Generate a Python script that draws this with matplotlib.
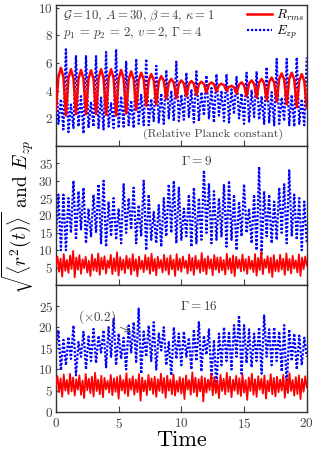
import numpy as np
import matplotlib
matplotlib.use("Agg")
import matplotlib.pyplot as plt

plt.rcParams["font.family"] = "serif"
plt.rcParams["font.serif"] = ["cmr10", "DejaVu Serif"]
plt.rcParams["mathtext.fontset"] = "cm"
plt.rcParams["axes.formatter.use_mathtext"] = True

# ---- data ----
# top panel (Gamma = 4), sampled every 0.2 time units
r_top = [2.6, 5.0, 5.65, 5.0, 2.2, 4.9, 5.55, 4.9, 2.3, 4.86, 5.5, 4.86,
         2.3, 4.85, 5.48, 4.85, 2.3, 4.9, 5.55, 4.9, 2.25, 4.9, 5.55, 4.9,
         2.2, 4.85, 5.5, 4.87, 2.35, 4.8, 5.4, 4.84, 2.6, 4.76, 5.3, 4.82,
         2.9, 4.74, 5.2, 4.76, 3.0, 4.64, 5.05, 4.72, 3.4, 4.56, 4.85, 4.57,
         3.45, 4.49, 4.75, 4.52, 3.6, 4.48, 4.7, 4.5, 3.7, 4.46, 4.65, 4.49,
         3.85, 4.45, 4.6, 4.47, 3.95, 4.39, 4.5, 4.4, 4.0, 4.28, 4.35, 4.24,
         3.8, 4.44, 4.6, 4.4, 3.6, 4.52, 4.75, 4.5, 3.5, 4.58, 4.85, 4.54,
         3.3, 4.62, 4.95, 4.6, 3.2, 4.84, 5.25, 4.8, 3.0, 4.84, 5.3, 4.8,
         2.8, 4.7, 5.2, 4.7, 2.75]
e_top = [5.5, 1.6, 3.4, 1.2, 7.0, 1.0, 3.0, 1.3, 6.5, 1.4, 3.6, 0.9,
         6.5, 1.3, 3.2, 1.4, 6.5, 1.3, 3.5, 1.2, 6.8, 1.4, 3.1, 1.3,
         7.0, 1.3, 3.6, 1.4, 6.1, 1.5, 3.3, 1.3, 6.3, 1.6, 3.7, 1.5,
         6.3, 1.5, 3.4, 1.8, 5.8, 1.7, 3.8, 1.6, 5.5, 2.0, 4.0, 1.8,
         6.1, 1.8, 3.7, 1.9, 5.3, 2.1, 4.1, 1.7, 5.4, 1.8, 3.9, 2.2,
         5.1, 2.0, 4.2, 1.7, 5.2, 2.2, 4.0, 1.8, 5.2, 1.7, 4.1, 2.3,
         5.0, 2.0, 3.8, 1.6, 5.3, 1.7, 4.0, 2.1, 5.4, 1.9, 3.6, 1.6,
         5.7, 1.7, 3.9, 1.5, 6.3, 1.6, 3.5, 1.8, 6.3, 1.5, 3.7, 1.4,
         6.4, 1.6, 3.4, 1.5, 6.4]

# middle panel (Gamma = 9)
e_mid_lo = [14, 10, 10, 15, 13, 16, 12, 14, 15, 12, 11, 14, 13, 12, 15, 16, 12,
            14, 10, 13, 12, 11, 14, 15, 12, 13, 14, 11, 12, 13, 15, 12, 13, 14,
            11, 13, 10, 14, 15, 12, 10, 9, 14, 12, 13, 15, 12, 14, 13, 10, 12]
e_mid_hi = [26, 26, 25, 30, 27, 28, 22, 26, 29, 30, 24, 25, 22, 29, 25, 28, 23,
            30, 26, 21, 23, 25, 29, 30, 28, 22, 26, 28, 25, 33, 29, 27, 25, 29,
            30, 26, 24, 29, 22, 26, 34, 27, 26, 24, 28, 29, 33, 26, 25, 24]
r_mid = [5.5, 8.2, 3.8, 7.6, 2.4, 8.9, 4.1, 7.2, 3.5, 8.5,
         4.6, 9.8, 2.2, 7.9, 4.4, 8.6, 3.2, 7.4, 4.8, 8.1,
         3.6, 7.0, 2.6, 8.8, 4.2, 7.5, 3.9, 9.1, 2.9, 7.8,
         4.5, 8.3, 3.3, 7.1, 4.9, 8.7, 3.1, 7.7, 4.0, 9.4,
         2.7, 8.0, 4.3, 7.3, 3.4, 8.4, 4.7, 7.6, 3.0, 8.9,
         4.1, 7.4, 2.5, 8.2, 4.6, 7.0, 3.7, 8.6, 4.4, 7.9,
         3.2, 9.0, 4.0, 7.5, 2.8, 8.1, 4.8, 7.2, 3.6, 8.7,
         4.2, 7.7, 3.0, 8.5, 4.5, 7.3, 2.6, 8.9, 4.3, 7.6,
         3.8, 8.2, 4.9, 7.0, 3.3, 8.8, 4.1, 7.8, 2.9, 8.4,
         4.6, 7.1, 3.5, 9.2, 4.0, 7.6, 3.1, 8.3, 4.7, 7.4,
         2.8, 8.6, 4.4, 7.9, 3.6, 8.0, 4.2, 7.2, 3.0, 9.0,
         4.5, 7.7, 3.4, 8.5, 2.5, 8.1, 4.8, 7.3, 3.9, 8.8,
         4.1, 7.5, 3.2, 8.2, 4.6, 7.0, 3.7, 8.9, 2.7, 7.8,
         4.3, 9.6, 3.1, 7.4, 4.9, 8.3, 3.5, 7.9, 2.3, 8.6,
         4.0, 7.2, 3.8, 8.7, 4.4, 7.6, 2.9, 9.1, 4.2, 7.5,
         3.3, 8.4, 4.7, 7.1, 3.6, 8.8, 2.6, 7.9, 4.5, 8.2, 5.6]

# bottom panel (Gamma = 16), E_zp shown x0.2
e_bot_lo = [15, 9.8, 11, 12.5, 8.6, 13, 10, 12, 11.5, 14,
            10.5, 13, 11, 12.5, 10, 14, 11.5, 9, 13, 12,
            10, 14.5, 11, 8.6, 12.5, 11, 13, 10, 12, 9.5,
            13.5, 7.9, 5.7, 11, 12, 10, 13, 9, 11.5, 10.5,
            12, 9, 13, 11, 12, 9.5, 5.1, 12, 10, 11, 13]
e_bot_hi = [19.3, 17, 17.7, 20.4, 16.5, 18.9, 17.8, 19.6, 18, 19.3,
            20, 22, 18.5, 17.5, 20.4, 21.2, 24.4, 19, 20.4, 21.2,
            18.5, 20, 16.5, 20, 18.5, 19, 17.5, 19.5, 21.2, 18,
            19.5, 17, 18.5, 20, 19, 20.5, 22.8, 20.5, 19.5, 18.5,
            20, 22.8, 19.5, 20, 19, 20.5, 19.5, 18.5, 18, 17.5]
r_bot = [6.0, 8.4, 4.6, 7.9, 3.5, 8.8, 5.0, 7.5, 4.2, 9.0,
         4.8, 8.1, 3.8, 7.7, 5.2, 8.6, 4.0, 7.4, 3.2, 8.9,
         5.1, 7.8, 4.4, 8.3, 3.6, 9.2, 4.9, 7.6, 4.1, 8.5,
         3.4, 8.0, 5.3, 7.3, 4.5, 8.7, 3.9, 7.9, 4.7, 8.2,
         3.1, 8.6, 5.0, 7.5, 4.3, 9.1, 3.7, 7.8, 5.2, 8.4,
         4.0, 7.6, 4.6, 8.9, 2.6, 8.1, 4.8, 7.4, 3.9, 8.7,
         5.1, 7.9, 4.2, 8.3, 3.5, 7.7, 4.9, 9.0, 4.4, 8.0,
         3.3, 8.5, 5.0, 7.6, 4.1, 8.8, 3.8, 7.3, 4.7, 8.2,
         4.3, 7.9, 3.0, 8.6, 5.2, 7.5, 4.0, 9.3, 4.6, 8.1,
         3.6, 7.7, 4.8, 8.4, 2.4, 8.0, 4.5, 7.6, 5.1, 8.9,
         3.9, 8.2, 4.4, 7.4, 3.2, 8.7, 4.9, 7.8, 4.1, 9.2,
         4.7, 8.3, 3.4, 7.6, 5.0, 8.5, 4.2, 7.9, 3.7, 8.8,
         4.5, 7.5, 2.8, 8.1, 4.9, 9.0, 4.0, 7.7, 3.5, 8.4,
         5.2, 7.8, 4.3, 8.6, 3.1, 7.4, 4.8, 8.9, 4.1, 8.0,
         3.6, 8.3, 4.6, 7.6, 5.0, 8.7, 3.3, 7.9, 4.4, 9.1,
         4.9, 7.5, 3.8, 8.2, 4.2, 8.6, 3.0, 7.8, 4.7, 8.4, 5.8]


def interleave(lo, hi):
    out = np.empty(len(lo) + len(hi))
    out[0::2] = lo
    out[1::2] = hi
    return out


e_mid = interleave(e_mid_lo, e_mid_hi)
e_bot = interleave(e_bot_lo, e_bot_hi)

RED = "#ff0000"
BLUE = "#0000ff"
GRAY = "0.25"
FS = 9.5

fig = plt.figure(figsize=(3.14, 4.53), dpi=100)
L, W = 0.178, 0.799
ax1 = fig.add_axes([L, 0.6777, W, 0.3113])
ax2 = fig.add_axes([L, 0.3709, W, 0.3068])
ax3 = fig.add_axes([L, 0.0912, W, 0.2797])

panels = [
    (ax1, r_top, e_top, (0, 10.2), [2, 4, 6, 8, 10], 1.8),
    (ax2, r_mid, e_mid, (0, 40), [5, 10, 15, 20, 25, 30, 35], 1.3),
    (ax3, r_bot, e_bot, (0, 30), [0, 5, 10, 15, 20, 25], 1.3),
]
for ax, r, e, ylim, yt, rlw in panels:
    ax.plot(np.linspace(0, 20, len(e)), e, ls=(0, (1, 0.8)), color=BLUE,
            lw=1.6, label=r"$E_{zp}$", zorder=2)
    ax.plot(np.linspace(0, 20, len(r)), r, ls="-", color=RED, lw=rlw,
            label=r"$R_{rms}$", zorder=3)
    ax.set_xlim(0, 20)
    ax.set_ylim(*ylim)
    ax.set_yticks(yt)
    ax.set_xticks([0, 5, 10, 15, 20])
    ax.tick_params(axis="x", direction="in", length=4, width=0.8, colors=GRAY,
                   labelsize=FS)
    ax.tick_params(axis="y", direction="in", length=2.5, width=0.8, colors=GRAY,
                   labelsize=FS, pad=2)
    for s in ax.spines.values():
        s.set_color("0.2")
        s.set_linewidth(1.0)

ax1.tick_params(axis="x", labelbottom=False)
ax2.tick_params(axis="x", labelbottom=False)

h, l = ax1.get_legend_handles_labels()
ax1.legend(h[::-1], l[::-1], loc="upper right", frameon=False, fontsize=FS,
           handlelength=1.9, handletextpad=0.3, borderaxespad=0.05,
           labelspacing=0.1, borderpad=0.15)

ax1.text(0.6, 9.35, r"$\mathcal{G}=10,\,A=30,\,\beta=4,\,\kappa=1$",
         fontsize=9.2, color=GRAY, va="center")
ax1.text(0.6, 8.2, r"$p_1\,=\,p_2\,=\,2,\,v=2,\,\Gamma=4$",
         fontsize=9.2, color=GRAY, va="center")
ax1.text(12.5, 0.85, "(Relative Planck constant)", fontsize=8.6,
         color=GRAY, ha="center", va="center")
ax2.text(11.2, 35.5, r"$\Gamma=9$", fontsize=FS, color=GRAY,
         ha="center", va="center")
ax3.text(11.4, 25, r"$\Gamma=16$", fontsize=FS, color=GRAY,
         ha="center", va="center")
ax3.annotate(r"$(\times0.2)$", xy=(6.0, 18.9), xytext=(3.3, 22.3),
             fontsize=FS, color=GRAY, ha="center", va="center",
             arrowprops=dict(arrowstyle="->", color="0.3", lw=0.6,
                             shrinkA=1, shrinkB=0))

ax3.set_xlabel("Time", fontsize=16, labelpad=0)
fig.text(0.055, 0.52, r"$\sqrt{\langle r^2(t)\rangle}$ and $E_{zp}$",
         rotation=90, fontsize=14, ha="center", va="center")

fig.savefig("out.png", dpi=100)
